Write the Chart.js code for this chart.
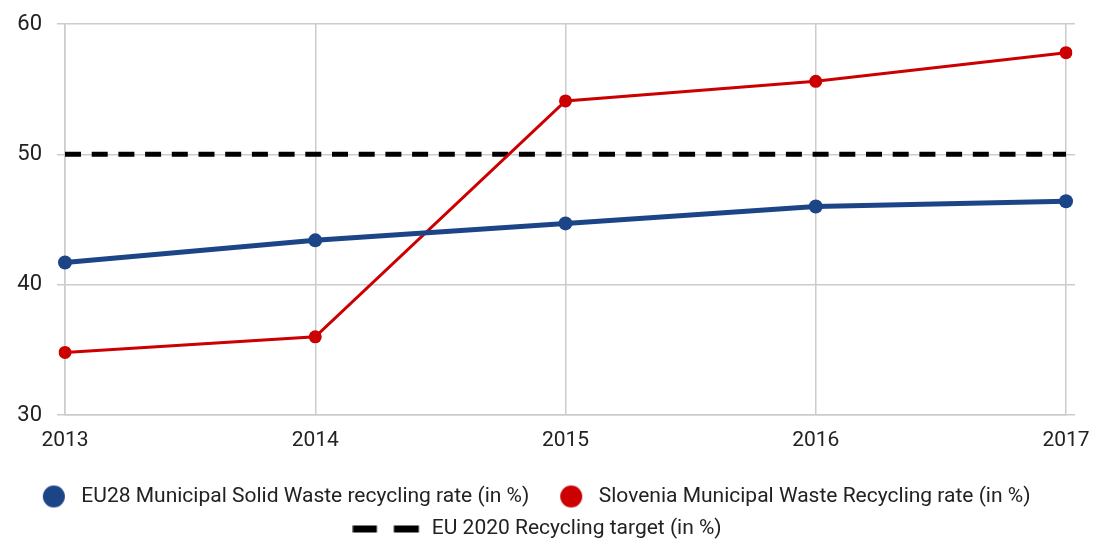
<!DOCTYPE html>
<html>
<head>
<meta charset="utf-8">
<script src="https://cdn.jsdelivr.net/npm/chart.js@4.4.1/dist/chart.umd.min.js"></script>
<style>
  html, body { margin: 0; padding: 0; background: #ffffff; overflow: hidden; }
  #wrap { position: relative; width: 1095px; height: 539px; }
</style>
</head>
<body>
<div id="wrap"><canvas id="c"></canvas></div>
<script>
const years = ['2013', '2014', '2015', '2016', '2017'];
const eu28Rate = [41.7, 43.4, 44.7, 46.0, 46.4];
const sloveniaRate = [34.8, 36.0, 54.1, 55.6, 57.8];
const euTarget = [50, 50, 50, 50, 50];
const seriesNames = [
  'EU28 Municipal Solid Waste recycling rate (in %)',
  'Slovenia Municipal Waste Recycling rate (in %)',
  'EU 2020 Recycling target (in %)'
];
const yMin = 30, yMax = 60, yStep = 10;

const BLUE = '#1c4587';
const RED = '#cc0000';
const GRID = '#cccccc';
const TEXT = '#222222';
const FONT = 'Roboto';

// legend symbol images (positioned relative to the legend box centre)
function circleIcon(color) {
  const c = document.createElement('canvas');
  c.width = 42; c.height = 26;
  const g = c.getContext('2d');
  g.fillStyle = color;
  g.beginPath();
  g.arc(21 + 7, 13, 11, 0, Math.PI * 2);
  g.fill();
  return c;
}
function dashIcon() {
  const c = document.createElement('canvas');
  c.width = 90; c.height = 26;
  const g = c.getContext('2d');
  g.fillStyle = '#000000';
  g.fillRect(0.5, 10, 24, 7);
  g.fillRect(41.5, 10, 25, 7);
  return c;
}
const legendIcons = [circleIcon(BLUE), circleIcon(RED), dashIcon()];
// trailing room after the last item of the first legend row (layout only)
const legendTrail = ['', '        ', ''];

const chart = new Chart(document.getElementById('c'), {
  type: 'line',
  data: {
    labels: years,
    datasets: [
      {
        label: seriesNames[0],
        data: eu28Rate,
        borderColor: BLUE,
        backgroundColor: BLUE,
        borderWidth: 5,
        pointRadius: 7,
        pointBackgroundColor: BLUE,
        pointBorderWidth: 0,
        tension: 0
      },
      {
        label: seriesNames[1],
        data: sloveniaRate,
        borderColor: RED,
        backgroundColor: RED,
        borderWidth: 3,
        pointRadius: 6.5,
        pointBackgroundColor: RED,
        pointBorderWidth: 0,
        tension: 0
      },
      {
        label: seriesNames[2],
        data: euTarget,
        borderColor: '#000000',
        backgroundColor: '#000000',
        borderWidth: 5,
        borderDash: [16, 10.7],
        borderCapStyle: 'butt',
        pointRadius: 0,
        tension: 0
      }
    ]
  },
  options: {
    responsive: true,
    maintainAspectRatio: false,
    animation: false,
    layout: { padding: { top: 24, right: 0, bottom: -10, left: 0 } },
    plugins: {
      tooltip: { enabled: false },
      legend: {
        display: true,
        position: 'bottom',
        align: 'center',
        labels: {
          usePointStyle: true,
          pointStyleWidth: 48,
          padding: 11,
          color: TEXT,
          font: { family: FONT, size: 21 },
          generateLabels(ch) {
            return ch.data.datasets.map((ds, i) => ({
              text: ds.label + legendTrail[i],
              fillStyle: ds.borderColor,
              strokeStyle: 'rgba(0,0,0,0)',
              lineWidth: 0,
              pointStyle: legendIcons[i],
              hidden: false,
              datasetIndex: i,
              fontColor: TEXT
            }));
          }
        }
      }
    },
    scales: {
      x: {
        type: 'category',
        offset: false,
        grid: { color: GRID, lineWidth: 1.5, drawTicks: false },
        border: { color: GRID, width: 1.5 },
        ticks: { color: TEXT, font: { family: FONT, size: 21 }, padding: 13, maxRotation: 0 },
        afterFit(scale) {
          scale.height = 60;
          scale.paddingLeft = 0;
          scale.paddingRight = 0;
        }
      },
      y: {
        type: 'linear',
        position: 'left',
        min: yMin,
        max: yMax,
        grid: { color: GRID, lineWidth: 1.5, tickLength: 8 },
        border: { color: GRID, width: 1.5 },
        ticks: { stepSize: yStep, color: TEXT, font: { family: FONT, size: 22 }, padding: 15 },
        afterFit(scale) {
          scale.width = 65;
          scale.paddingTop = 0;
          scale.paddingBottom = 0;
        }
      },
      y2: {
        type: 'linear',
        position: 'right',
        min: yMin,
        max: yMax,
        grid: { color: GRID, lineWidth: 1.5, tickLength: 9, drawOnChartArea: false },
        border: { display: false },
        ticks: { stepSize: yStep, display: false },
        afterFit(scale) {
          scale.width = 29;
          scale.paddingTop = 0;
          scale.paddingBottom = 0;
        }
      }
    }
  }
});
</script>
</body>
</html>
